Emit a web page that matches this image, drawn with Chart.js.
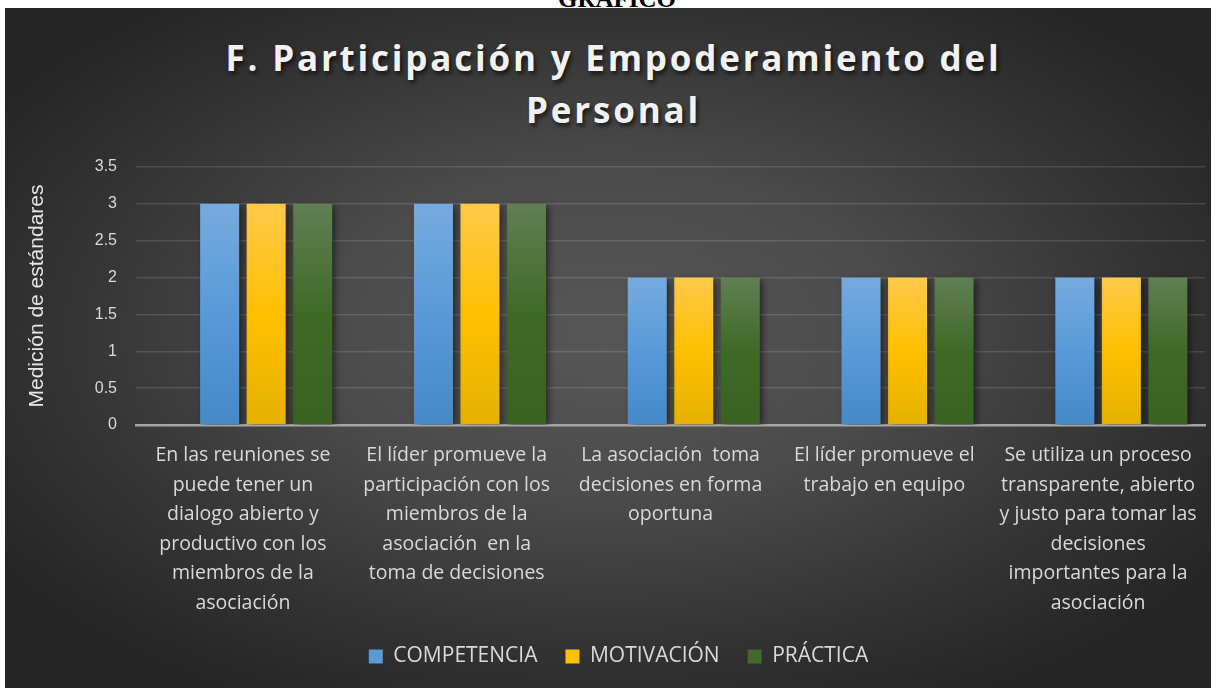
<!DOCTYPE html>
<html>
<head>
<meta charset="utf-8">
<script src="https://cdn.jsdelivr.net/npm/chart.js@4.4.1/dist/chart.umd.min.js"></script>
<style>
  html, body { margin: 0; padding: 0; background: #ffffff; width: 1217px; height: 688px; overflow: hidden; }
  #top { position: absolute; left: 0; top: 0; width: 1217px; height: 8px; overflow: hidden; }
  #top span { position: absolute; left: 0; width: 1234px; top: -16px; text-align: center; line-height: 29px;
    font-family: "Liberation Serif", serif; font-weight: bold; font-size: 25px; color: #000; }
  #frame { position: absolute; left: 5px; top: 8px; width: 1206px; height: 680px;
    background: radial-gradient(ellipse 60% 60% at 50% 48%, #575757 0%, #4b4b4b 40%, #343434 75%, #262626 100%); }
  #title { position: absolute; left: 5px; top: 32px; width: 1217px; text-align: center;
    font-family: "Open Sans", sans-serif; font-weight: bold; font-size: 35px; line-height: 52px;
    letter-spacing: 2.8px; color: #f2f2f2; text-shadow: 2px 3px 4px rgba(0,0,0,0.65); }
  #c { position: absolute; left: 0; top: 0; }
</style>
</head>
<body>
<div id="top"><span>GRAFICO</span></div>
<div id="frame"></div>
<div id="title">F. Participación y Empoderamiento del<br>Personal</div>
<canvas id="c" width="1217" height="688"></canvas>
<script>
const categories = [
  ["En las reuniones se", "puede tener un", "dialogo abierto y", "productivo con los", "miembros de la", "asociación"],
  ["El líder promueve la", "participación con los", "miembros de la", "asociación  en la", "toma de decisiones"],
  ["La asociación  toma", "decisiones en forma", "oportuna"],
  ["El líder promueve el", "trabajo en equipo"],
  ["Se utiliza un proceso", "transparente, abierto", "y justo para tomar las", "decisiones", "importantes para la", "asociación"]
];
const seriesNames = ["COMPETENCIA", "MOTIVACIÓN", "PRÁCTICA"];
const blankSeries = [null, null, null, null, null];
const competencia = [3, 3, 2, 2, 2];
const motivacion = [3, 3, 2, 2, 2];
const practica = [3, 3, 2, 2, 2];
const yTicks = [0, 0.5, 1, 1.5, 2, 2.5, 3, 3.5];
const yAxisTitle = "Medición de estándares";

function grad(stops, fallback) {
  return function (ctx) {
    const chart = ctx.chart;
    const ys = chart.scales && chart.scales.y;
    if (!ys || ctx.type !== 'data' || ctx.raw == null) return fallback;
    const top = ys.getPixelForValue(ctx.raw);
    const bot = ys.getPixelForValue(0);
    if (!isFinite(top) || !isFinite(bot) || top === bot) return fallback;
    const g = chart.ctx.createLinearGradient(0, top, 0, bot);
    stops.forEach(s => g.addColorStop(s[0], s[1]));
    return g;
  };
}

const shadowPlugin = {
  id: 'barShadow',
  beforeDatasetsDraw(chart) {
    const c = chart.ctx;
    c.save();
    c.shadowColor = 'rgba(0,0,0,0.55)';
    c.shadowBlur = 7;
    c.shadowOffsetX = 3;
    c.shadowOffsetY = 2;
  },
  afterDatasetsDraw(chart) { chart.ctx.restore(); }
};

const legendShift = {
  id: 'legendShift',
  afterLayout(chart) {
    if (chart.legend) { chart.legend.left += 30; chart.legend.right += 2; }
  }
};

new Chart(document.getElementById('c'), {
  type: 'bar',
  data: {
    labels: categories,
    datasets: [
      { label: '', data: blankSeries, backgroundColor: 'rgba(0,0,0,0)' },
      { label: seriesNames[0], data: competencia,
        backgroundColor: grad([[0, '#76aade'], [0.5, '#589ad9'], [1, '#4689c8']], '#5b9bd5') },
      { label: seriesNames[1], data: motivacion,
        backgroundColor: grad([[0, '#ffc94a'], [0.5, '#ffc000'], [1, '#e5b100']], '#ffc000') },
      { label: seriesNames[2], data: practica,
        backgroundColor: grad([[0, '#607f55'], [0.5, '#3f6a25'], [1, '#3a6221']], '#43682b') }
    ]
  },
  options: {
    responsive: false,
    animation: false,
    devicePixelRatio: 1,
    datasets: { bar: { categoryPercentage: 0.87, barPercentage: 0.84 } },
    layout: { padding: { top: 167, right: 12, bottom: 11, left: 0 } },
    plugins: {
      title: { display: false },
      tooltip: { enabled: false },
      legend: {
        position: 'bottom',
        labels: {
          filter: item => item.text !== '',
          color: '#d9d9d9',
          font: { family: '"Open Sans", sans-serif', size: 21 },
          boxWidth: 14, boxHeight: 14, padding: 28,
          generateLabels(chart) {
            const cols = ['#5b9bd5', '#ffc000', '#43682b'];
            return chart.data.datasets.map((d, i) => ({
              text: d.label, fillStyle: i > 0 ? cols[i - 1] : 'rgba(0,0,0,0)',
              strokeStyle: 'rgba(0,0,0,0)', lineWidth: 0, fontColor: '#d9d9d9', datasetIndex: i, hidden: false
            }));
          }
        }
      }
    },
    scales: {
      x: {
        grid: { display: false, drawTicks: false },
        border: { display: true, color: '#a6a6a6', width: 2.5 },
        ticks: {
          color: '#d9d9d9', padding: 16, maxRotation: 0, autoSkip: false,
          font: { family: '"Open Sans", sans-serif', size: 19.5, lineHeight: 1.51 }
        },
        afterFit(scale) { scale.height = 193; }
      },
      y: {
        min: 0, max: 3.5,
        afterBuildTicks(scale) { scale.ticks = yTicks.map(v => ({ value: v })); },
        grid: { color: 'rgba(255,255,255,0.13)', lineWidth: 1.5, drawTicks: false },
        border: { display: false },
        ticks: {
          color: '#d9d9d9', padding: 19,
          callback: v => String(v),
          font: { family: '"Liberation Sans", Arial, sans-serif', size: 16 }
        },
        title: {
          display: true, text: yAxisTitle, color: '#e6e6e6',
          font: { family: '"Liberation Sans", Arial, sans-serif', size: 21 },
          padding: { top: 25, bottom: 0 }
        },
        afterFit(scale) { scale.width = 136; }
      }
    }
  },
  plugins: [shadowPlugin, legendShift]
});
</script>
</body>
</html>
